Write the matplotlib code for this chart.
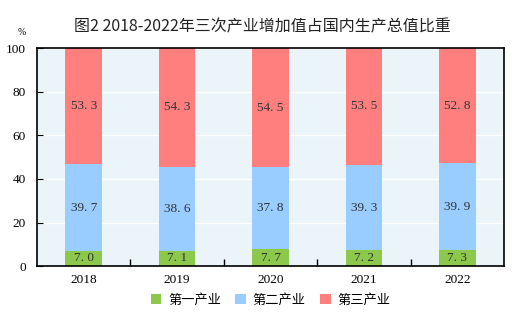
import numpy as np
import matplotlib.pyplot as plt

years = ['2018', '2019', '2020', '2021', '2022']
primary = [7.0, 7.1, 7.7, 7.2, 7.3]
secondary = [39.7, 38.6, 37.8, 39.3, 39.9]
tertiary = [53.3, 54.3, 54.5, 53.5, 52.8]
names = ['第一产业', '第二产业', '第三产业']
colors = ['#8CC84B', '#99CCFF', '#FF7F7F']

cjk = ['Noto Sans CJK SC', 'DejaVu Sans']
serif = ['Liberation Serif', 'DejaVu Serif']

fig = plt.figure(figsize=(5.24, 3.21), dpi=100)
ax = fig.add_axes([0.0706, 0.171, 0.8914, 0.679])
ax.set_facecolor('#EBF4F9')

x = np.arange(len(years))
w = 0.39
bottom = np.zeros(len(years))
for vals, c, n in zip([primary, secondary, tertiary], colors, names):
    vals = np.array(vals)
    ax.bar(x, vals, w, bottom=bottom, color=c, label=n, zorder=3)
    for xi, b, v in zip(x, bottom, vals):
        ax.text(xi, b + v / 2, f'{v:.1f}'.replace('.', '. '), ha='center', va='center',
                fontsize=9.5, family=serif, color='#333333', zorder=4)
    bottom += vals

ax.set_xlim(-0.5, 4.5)
ax.set_ylim(0, 100)
ax.set_yticks(range(0, 101, 20))
ax.yaxis.grid(True, color='white', linewidth=1, zorder=1)
ax.set_xticks(x)
ax.set_xticklabels(years, family=serif, fontsize=9.5)
ax.tick_params(axis='x', length=0, pad=6)
ax.set_xticks(np.arange(0.5, 4.5, 1), minor=True)
ax.tick_params(axis='x', which='minor', direction='in', length=5, width=1)
ax.tick_params(axis='y', direction='in', length=4, labelsize=9.5, pad=8)
for lab in ax.get_yticklabels():
    lab.set_family(serif)
for s in ax.spines.values():
    s.set_linewidth(1.2)
    s.set_zorder(5)

fig.text(0.042, 0.89, '%', fontsize=7, family=serif, ha='center')
fig.text(0.5, 0.915, '图2 2018-2022年三次产业增加值占国内生产总值比重',
         fontsize=11.5, family=cjk, ha='center', va='center', color='#222222',
         fontweight='medium')

ax.legend(loc='center', bbox_to_anchor=(0.5, -0.156), ncol=3, frameon=False,
          prop={'family': cjk, 'size': 9.5}, handlelength=0.8, handleheight=0.8,
          handletextpad=0.5, columnspacing=1.1)

fig.savefig('out.png', dpi=100)
